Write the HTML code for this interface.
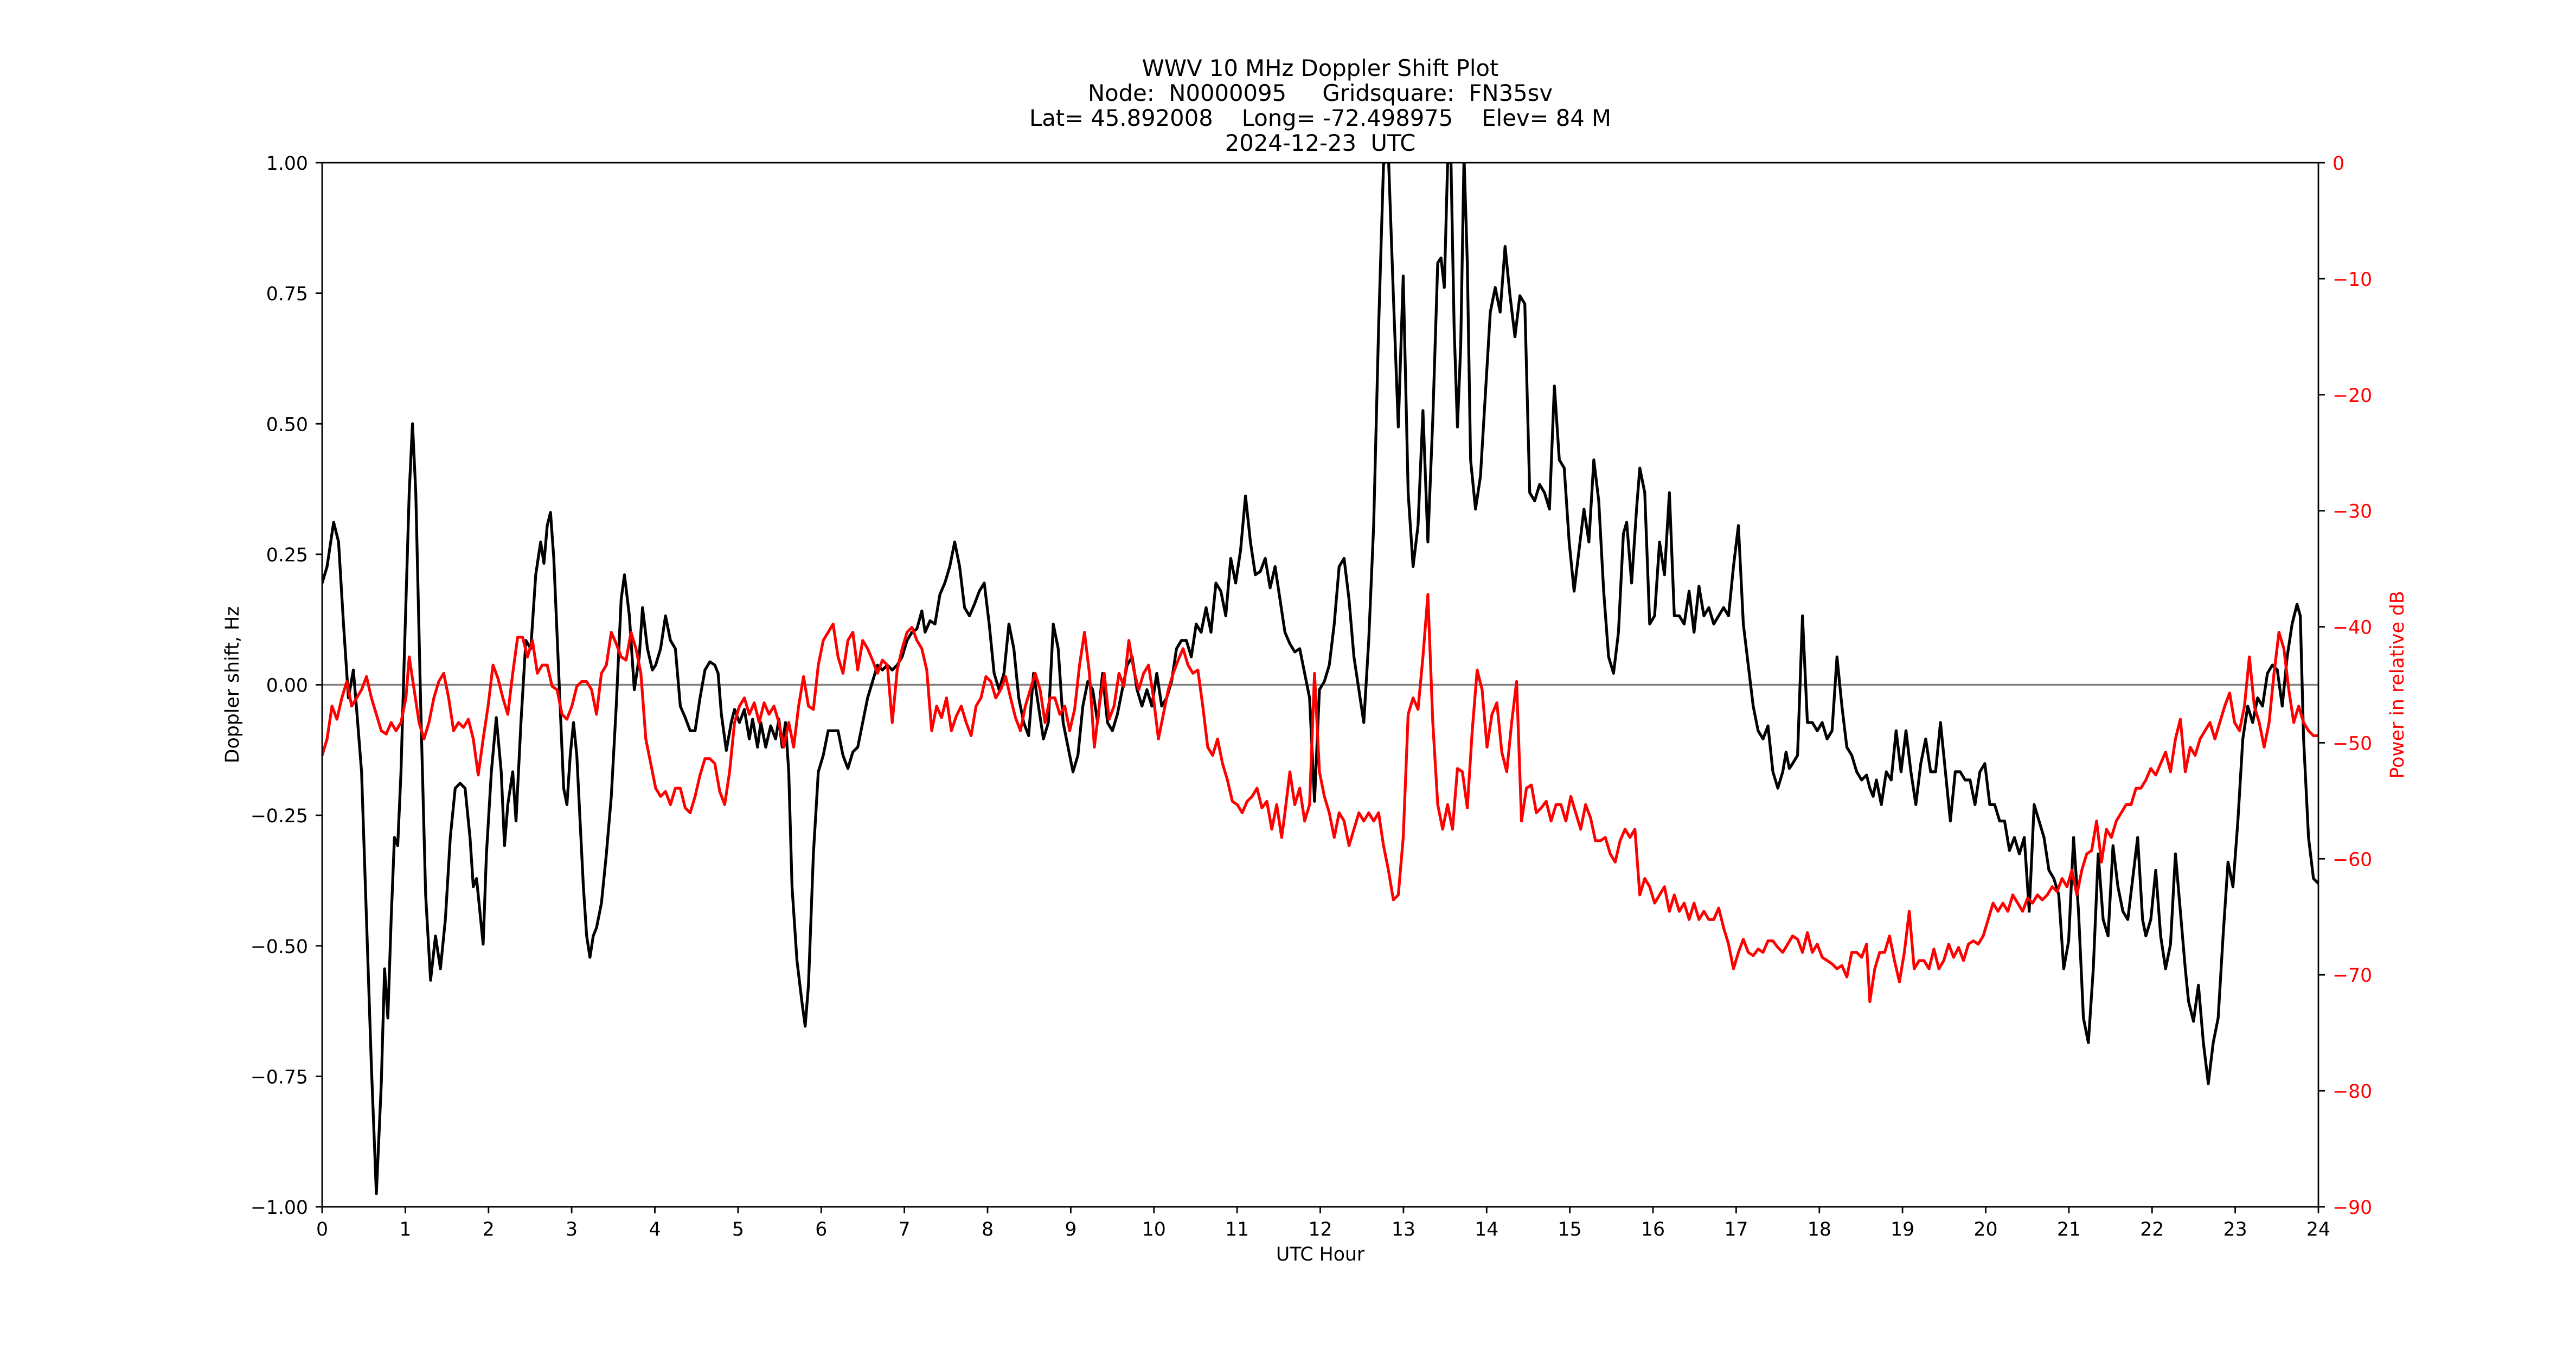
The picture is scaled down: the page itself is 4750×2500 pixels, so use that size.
<!DOCTYPE html>
<html><head><meta charset="utf-8"><style>html,body{margin:0;padding:0;background:#fff}svg{display:block}text{font-family:"DejaVu Sans","Liberation Sans",sans-serif;white-space:pre}</style></head>
<body>
<svg width="4750" height="2500" viewBox="0 0 4750 2500" xmlns="http://www.w3.org/2000/svg" xml:space="preserve">
<rect width="4750" height="2500" fill="#fff"/>
<defs><clipPath id="c"><rect x="594" y="300" width="3681" height="1925"/></clipPath></defs>
<line x1="594" y1="1262.5" x2="4275" y2="1262.5" stroke="#808080" stroke-width="3.5"/>
<g clip-path="url(#c)">
<g transform="translate(594,300) scale(3.0296,3.0267) translate(-196,-99)" fill="none" stroke-linejoin="round" stroke-linecap="round">
<polyline stroke="#000" stroke-width="1.72" points="196,355 199,345 203,318 206,330 209,380 212,425 215,408 217,432 220,470 223,560 226,650 229,727 232,660 234,590 236,620 238,560 240,510 242,515 244,470 246,400 249,300 251,258 253,300 256,430 259,545 262,597 265,570 268,590 271,560 274,510 277,480 280,477 283,480 286,510 288,540 290,535 292,555 294,575 296,520 299,470 302,437 305,470 307,515 309,490 312,470 314,500 317,440 320,390 323,395 326,350 329,330 331,343 333,320 335,312 337,340 340,410 343,480 345,490 347,460 349,440 351,460 353,500 355,540 357,570 359,583 361,570 363,565 366,550 369,520 372,485 375,430 378,365 380,350 383,375 386,420 389,400 391,370 394,395 397,408 399,405 402,395 405,375 408,390 411,395 414,430 417,437 420,445 423,445 426,425 429,408 432,403 435,405 437,410 439,435 442,457 445,440 447,432 450,440 453,432 456,450 458,438 461,455 463,440 466,455 469,442 472,450 474,438 476,455 478,440 480,470 482,540 485,585 488,610 490,625 492,600 495,520 498,470 501,460 504,445 507,445 510,445 513,460 516,468 519,458 522,455 525,440 528,425 531,415 534,405 537,408 540,405 543,408 546,405 549,400 552,390 555,385 558,383 561,372 563,385 566,378 569,380 572,362 575,355 578,345 581,330 584,345 587,370 590,375 593,368 596,360 599,355 602,380 605,410 608,420 611,410 614,380 617,395 620,425 623,440 626,448 629,410 632,430 635,450 638,440 641,380 644,395 647,440 650,455 653,470 656,460 659,430 662,415 665,420 668,440 671,410 674,440 677,445 680,435 683,420 686,405 689,400 692,420 695,430 698,420 701,430 704,410 707,430 710,425 713,415 716,395 719,390 722,390 725,400 728,380 731,385 734,370 737,385 740,355 743,360 746,375 749,340 752,355 755,335 758,302 761,330 764,350 767,348 770,340 773,358 776,345 779,365 782,385 785,392 788,397 791,395 794,410 797,425 800,488 803,420 806,415 809,405 812,380 815,345 818,340 821,365 824,400 827,420 830,440 833,390 836,320 839,200 842,100 845,95 848,180 851,260 854,168 857,300 860,345 863,320 866,250 869,330 872,255 875,160 877,157 879,175 881,100 883,95 885,200 887,260 889,210 891,95 893,160 895,280 898,310 901,290 904,240 907,190 910,175 913,190 916,150 919,180 922,205 925,180 928,185 931,300 934,305 937,295 940,300 943,310 946,235 949,280 952,285 955,330 958,360 961,335 964,310 967,330 970,280 973,305 976,360 979,400 982,410 985,385 988,325 990,318 993,355 996,310 998,285 1001,300 1004,380 1007,375 1010,330 1013,350 1016,300 1019,375 1022,375 1025,380 1028,360 1031,385 1034,357 1037,375 1040,370 1043,380 1046,375 1049,370 1052,375 1055,345 1058,320 1061,380 1064,405 1067,430 1070,445 1073,450 1076,442 1079,470 1082,480 1085,470 1087,458 1089,468 1091,465 1094,460 1097,375 1100,440 1103,440 1106,445 1109,440 1112,450 1115,445 1118,400 1121,430 1124,455 1127,460 1130,470 1133,475 1136,472 1138,480 1140,485 1142,475 1145,490 1148,470 1151,475 1154,445 1157,470 1160,445 1163,470 1166,490 1169,465 1172,450 1175,470 1178,470 1181,440 1184,470 1187,500 1190,470 1193,470 1196,475 1199,475 1202,490 1205,470 1208,465 1211,490 1214,490 1217,500 1220,500 1223,518 1226,510 1229,520 1232,510 1235,555 1238,490 1241,500 1244,510 1247,530 1250,535 1253,545 1256,590 1259,573 1262,510 1265,555 1268,620 1271,635 1274,590 1277,520 1280,560 1283,570 1286,515 1289,540 1292,555 1295,560 1298,535 1301,510 1304,560 1306,570 1309,560 1312,530 1315,570 1318,590 1321,575 1324,520 1327,555 1330,590 1332,610 1335,622 1338,600 1341,635 1344,660 1347,635 1350,620 1353,570 1356,525 1359,540 1362,500 1365,450 1368,430 1371,440 1374,425 1377,430 1380,410 1383,405 1386,408 1389,430 1392,400 1395,380 1398,368 1400,375 1402,450 1405,510 1408,535 1411,538"/>
<polyline stroke="#f00" stroke-width="1.72" points="196,460 199,450 202,430 205,438 208,425 211,415 214,430 217,425 220,420 223,412 226,425 229,435 232,445 235,447 238,440 241,445 244,440 247,425 249,400 252,420 255,440 258,450 261,440 264,425 267,415 270,410 273,425 276,445 279,440 282,443 285,438 288,450 291,472 294,450 297,430 300,405 303,413 306,425 309,435 312,410 315,388 318,388 321,400 324,390 327,410 330,405 333,405 336,418 339,420 342,435 345,438 348,430 351,418 354,415 357,415 360,420 363,435 366,410 369,405 372,385 375,392 378,400 381,402 384,385 387,395 390,410 393,450 396,465 399,480 402,485 405,482 408,490 411,480 414,480 417,492 420,495 423,485 426,472 429,462 432,462 435,465 438,482 441,490 444,470 447,440 450,430 453,425 456,435 459,428 462,440 465,428 468,435 471,430 474,440 477,455 480,440 483,455 486,430 489,412 492,430 495,432 498,405 501,390 504,385 507,380 510,400 513,410 516,390 519,385 522,408 525,390 528,395 531,402 534,410 537,402 540,405 543,440 546,408 549,395 552,385 555,382 558,390 561,395 564,408 567,445 570,430 573,437 576,425 579,445 582,436 585,430 588,440 591,448 594,430 597,425 600,412 603,415 606,425 609,420 612,412 615,425 618,437 621,445 624,430 627,420 630,410 633,420 636,440 639,425 642,425 645,435 648,430 651,445 654,432 657,405 660,385 663,410 666,455 669,430 672,410 675,438 678,430 681,410 684,418 687,390 690,408 693,420 696,410 699,405 702,425 705,450 708,435 711,420 714,410 717,402 720,395 723,405 726,410 729,408 732,430 735,455 738,460 741,450 744,465 747,475 750,488 753,490 756,495 759,488 762,485 765,480 768,492 771,488 774,505 777,490 780,510 782,495 785,470 788,490 791,480 794,500 797,490 800,410 803,470 806,485 809,495 812,510 815,495 818,500 821,515 824,505 827,495 830,500 833,495 836,500 839,495 842,515 845,530 848,548 851,545 854,510 857,435 860,425 863,432 866,400 869,362 872,440 875,490 878,505 881,490 884,505 887,468 890,470 893,492 896,445 899,408 902,420 905,455 908,435 911,428 914,458 917,470 920,440 923,415 926,500 929,480 932,478 935,495 938,492 941,488 944,500 947,490 950,490 953,500 956,485 959,495 962,505 965,490 968,498 971,512 974,512 977,510 980,520 983,525 986,512 989,505 992,510 995,505 998,545 1001,535 1004,540 1007,550 1010,545 1013,540 1016,555 1019,545 1022,555 1025,550 1028,560 1031,550 1034,560 1037,555 1040,560 1043,560 1046,553 1049,565 1052,575 1055,590 1058,580 1061,572 1064,580 1067,582 1070,578 1073,580 1076,573 1079,573 1082,577 1085,580 1088,575 1091,570 1094,572 1097,580 1100,568 1103,580 1106,575 1109,583 1112,585 1115,587 1118,590 1121,588 1124,595 1127,580 1130,580 1133,583 1136,575 1138,610 1141,590 1144,580 1147,580 1150,570 1153,585 1156,598 1159,580 1162,555 1165,590 1168,585 1171,585 1174,590 1177,578 1180,590 1183,585 1186,575 1189,583 1192,577 1195,585 1198,575 1201,573 1204,575 1207,570 1210,560 1213,550 1216,555 1219,550 1222,555 1225,545 1228,550 1231,555 1234,547 1237,550 1240,545 1243,548 1246,545 1249,540 1252,543 1255,535 1258,540 1261,530 1264,545 1267,530 1270,520 1273,518 1276,500 1279,525 1282,505 1285,510 1288,500 1291,495 1294,490 1297,490 1300,480 1303,480 1306,475 1309,468 1312,472 1315,465 1318,458 1321,470 1324,450 1327,438 1330,470 1333,455 1336,460 1339,450 1342,445 1345,440 1348,450 1351,440 1354,430 1357,422 1360,440 1363,445 1366,430 1369,400 1372,430 1375,440 1378,455 1381,440 1384,410 1387,385 1390,395 1393,420 1396,440 1399,430 1402,440 1405,445 1408,448 1411,448"/>
</g>
</g>
<rect x="594" y="300" width="3681" height="1925" fill="none" stroke="#000" stroke-width="2.8"/>
<g stroke="#000" stroke-width="2.8">
<line x1="594" y1="2225" x2="594" y2="2237"/><line x1="747.4" y1="2225" x2="747.4" y2="2237"/><line x1="900.8" y1="2225" x2="900.8" y2="2237"/><line x1="1054.1" y1="2225" x2="1054.1" y2="2237"/><line x1="1207.5" y1="2225" x2="1207.5" y2="2237"/><line x1="1360.9" y1="2225" x2="1360.9" y2="2237"/><line x1="1514.3" y1="2225" x2="1514.3" y2="2237"/><line x1="1667.6" y1="2225" x2="1667.6" y2="2237"/><line x1="1821" y1="2225" x2="1821" y2="2237"/><line x1="1974.4" y1="2225" x2="1974.4" y2="2237"/><line x1="2127.8" y1="2225" x2="2127.8" y2="2237"/><line x1="2281.1" y1="2225" x2="2281.1" y2="2237"/><line x1="2434.5" y1="2225" x2="2434.5" y2="2237"/><line x1="2587.9" y1="2225" x2="2587.9" y2="2237"/><line x1="2741.3" y1="2225" x2="2741.3" y2="2237"/><line x1="2894.6" y1="2225" x2="2894.6" y2="2237"/><line x1="3048" y1="2225" x2="3048" y2="2237"/><line x1="3201.4" y1="2225" x2="3201.4" y2="2237"/><line x1="3354.8" y1="2225" x2="3354.8" y2="2237"/><line x1="3508.1" y1="2225" x2="3508.1" y2="2237"/><line x1="3661.5" y1="2225" x2="3661.5" y2="2237"/><line x1="3814.9" y1="2225" x2="3814.9" y2="2237"/><line x1="3968.3" y1="2225" x2="3968.3" y2="2237"/><line x1="4121.6" y1="2225" x2="4121.6" y2="2237"/><line x1="4275" y1="2225" x2="4275" y2="2237"/>
<line x1="582" y1="300" x2="594" y2="300"/><line x1="582" y1="540.6" x2="594" y2="540.6"/><line x1="582" y1="781.3" x2="594" y2="781.3"/><line x1="582" y1="1021.9" x2="594" y2="1021.9"/><line x1="582" y1="1262.5" x2="594" y2="1262.5"/><line x1="582" y1="1503.1" x2="594" y2="1503.1"/><line x1="582" y1="1743.8" x2="594" y2="1743.8"/><line x1="582" y1="1984.4" x2="594" y2="1984.4"/><line x1="582" y1="2225" x2="594" y2="2225"/>
<line x1="4275" y1="300" x2="4287" y2="300"/><line x1="4275" y1="513.9" x2="4287" y2="513.9"/><line x1="4275" y1="727.8" x2="4287" y2="727.8"/><line x1="4275" y1="941.7" x2="4287" y2="941.7"/><line x1="4275" y1="1155.6" x2="4287" y2="1155.6"/><line x1="4275" y1="1369.4" x2="4287" y2="1369.4"/><line x1="4275" y1="1583.3" x2="4287" y2="1583.3"/><line x1="4275" y1="1797.2" x2="4287" y2="1797.2"/><line x1="4275" y1="2011.1" x2="4287" y2="2011.1"/><line x1="4275" y1="2225" x2="4287" y2="2225"/>
</g>
<g font-size="34.7" text-anchor="middle" fill="#000">
<text x="594" y="2278">0</text><text x="747.4" y="2278">1</text><text x="900.8" y="2278">2</text><text x="1054.1" y="2278">3</text><text x="1207.5" y="2278">4</text><text x="1360.9" y="2278">5</text><text x="1514.3" y="2278">6</text><text x="1667.6" y="2278">7</text><text x="1821" y="2278">8</text><text x="1974.4" y="2278">9</text><text x="2127.8" y="2278">10</text><text x="2281.1" y="2278">11</text><text x="2434.5" y="2278">12</text><text x="2587.9" y="2278">13</text><text x="2741.3" y="2278">14</text><text x="2894.6" y="2278">15</text><text x="3048" y="2278">16</text><text x="3201.4" y="2278">17</text><text x="3354.8" y="2278">18</text><text x="3508.1" y="2278">19</text><text x="3661.5" y="2278">20</text><text x="3814.9" y="2278">21</text><text x="3968.3" y="2278">22</text><text x="4121.6" y="2278">23</text><text x="4275" y="2278">24</text>
<text x="2434.5" y="2324">UTC Hour</text>
</g>
<g font-size="34.7" text-anchor="end" fill="#000">
<text x="568" y="313">1.00</text><text x="568" y="553.6">0.75</text><text x="568" y="794.3">0.50</text><text x="568" y="1034.9">0.25</text><text x="568" y="1275.5">0.00</text><text x="568" y="1516.1">−0.25</text><text x="568" y="1756.8">−0.50</text><text x="568" y="1997.4">−0.75</text><text x="568" y="2238">−1.00</text>
</g>
<g font-size="34.7" text-anchor="start" fill="#f00">
<text x="4301" y="313">0</text><text x="4301" y="526.9">−10</text><text x="4301" y="740.8">−20</text><text x="4301" y="954.7">−30</text><text x="4301" y="1168.6">−40</text><text x="4301" y="1382.4">−50</text><text x="4301" y="1596.3">−60</text><text x="4301" y="1810.2">−70</text><text x="4301" y="2024.1">−80</text><text x="4301" y="2238">−90</text>
</g>
<text transform="translate(440,1262.5) rotate(-90)" font-size="34.7" text-anchor="middle" fill="#000">Doppler shift, Hz</text>
<text transform="translate(4432,1262.5) rotate(-90)" font-size="34.7" text-anchor="middle" fill="#f00">Power in relative dB</text>
<g font-size="41.7" text-anchor="middle" fill="#000">
<text x="2434.5" y="140">WWV 10 MHz Doppler Shift Plot</text>
<text x="2434.5" y="186">Node:  N0000095     Gridsquare:  FN35sv</text>
<text x="2434.5" y="232">Lat= 45.892008    Long= -72.498975    Elev= 84 M</text>
<text x="2434.5" y="278">2024-12-23  UTC</text>
</g>
</svg>
</body></html>
